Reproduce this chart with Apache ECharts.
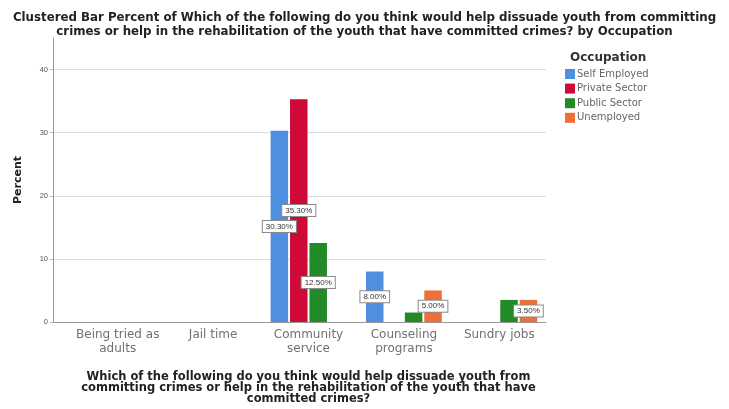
<!DOCTYPE html>
<html><head><meta charset="utf-8">
<script src="https://cdn.jsdelivr.net/npm/echarts@6/dist/echarts.min.js"></script>
<style>html,body{margin:0;padding:0;background:#fff}#c{width:729px;height:409px}</style>
</head><body><div id="c"></div>
<script>
const categories = ['Being tried as\nadults', 'Jail time', 'Community\nservice', 'Counseling\nprograms', 'Sundry jobs'];
const seriesNames = ['Self Employed', 'Private Sector', 'Public Sector', 'Unemployed'];
const selfEmployed = [null, null, 30.3, 8.0, null];
const privateSector = [null, null, 35.3, null, null];
const publicSector = [null, null, 12.5, 1.5, 3.5];
const unemployed = [null, null, null, 5.0, 3.5];
const labelShown = [
  [false, false, true, true, false],
  [false, false, true, false, false],
  [false, false, true, false, false],
  [false, false, false, true, true]
];
const yTicks = [0, 10, 20, 30, 40];
const colors = ['#4f8fe0', '#cf0a37', '#238a28', '#ee6f38'];

const chart = echarts.init(document.getElementById('c'), null, {renderer: 'canvas'});
const font = 'Liberation Sans, Arial, sans-serif';
const wide = 'DejaVu Sans, Verdana, sans-serif';
const values = [selfEmployed, privateSector, publicSector, unemployed];

const series = values.map((arr, si) => ({
  name: seriesNames[si],
  type: 'bar',
  xAxisIndex: 1, yAxisIndex: 1,
  barWidth: 17.5,
  barGap: '11%',
  itemStyle: {color: colors[si]},
  data: arr.map((v, i) => ({
    value: v,
    label: {show: labelShown[si][i] && v != null}
  })),
  label: {
    position: 'inside',
    formatter: p => p.value.toFixed(2) + '%',
    fontSize: 8, fontFamily: font, color: '#333',
    backgroundColor: '#fff', borderColor: '#8a8a8a', borderWidth: 1,
    padding: [2, 3, 1, 3]
  }
}));

chart.setOption({
  backgroundColor: '#fff',
  animation: false,
  title: [
    {text: 'Clustered Bar Percent of Which of the following do you think would help dissuade youth from committing\ncrimes or help in the rehabilitation of the youth that have committed crimes? by Occupation',
     left: 'center', top: 6,
     textStyle: {fontSize: 11.8, fontWeight: 'bold', fontFamily: wide, color: '#222', lineHeight: 14}},
    {text: 'Occupation', left: 565, top: 47,
     textStyle: {fontSize: 12, fontWeight: 'bold', fontFamily: wide, color: '#333'}}
  ],
  legend: {
    orient: 'vertical', left: 560, top: 64,
    itemWidth: 10, itemHeight: 10, itemGap: 4.6,
    icon: 'rect',
    textStyle: {fontSize: 10, fontFamily: wide, color: '#666', padding: [0, 0, 0, -3]},
    data: seriesNames
  },
  grid: [
    {left: 53, top: 38, width: 493, height: 284, outerBoundsMode: 'none', containLabel: false},
    {left: 70, top: 38, width: 477, height: 284, outerBoundsMode: 'none', containLabel: false}
  ],
  xAxis: [
    {type: 'category', gridIndex: 0, data: [''], axisLine: {lineStyle: {color: '#9a9a9a'}},
     axisTick: {show: false}, axisLabel: {show: false}},
    {type: 'category', gridIndex: 1, data: categories,
     axisLine: {show: false}, axisTick: {show: false},
     axisLabel: {fontSize: 12, fontFamily: wide, color: '#707070', lineHeight: 14, margin: 6, interval: 0},
     name: 'Which of the following do you think would help dissuade youth from\ncommitting crimes or help in the rehabilitation of the youth that have\ncommitted crimes?',
     nameLocation: 'middle', nameGap: 50,
     nameTextStyle: {fontSize: 11.5, fontWeight: 'bold', fontFamily: wide, color: '#222', lineHeight: 11}}
  ],
  yAxis: [
    {type: 'value', gridIndex: 0, min: 0, max: 45, interval: 10,
     axisLine: {show: true, lineStyle: {color: '#9a9a9a'}},
     axisTick: {show: true, length: 3, lineStyle: {color: '#bbb'}},
     axisLabel: {fontSize: 7.5, fontFamily: font, color: '#555', margin: 5, showMaxLabel: false,
       formatter: v => yTicks.includes(v) ? String(v) : ''},
     splitLine: {show: true, showMaxLine: false, lineStyle: {color: '#dcdcdc'}},
     name: 'Percent', nameLocation: 'middle', nameGap: 29,
     nameTextStyle: {fontSize: 11, fontWeight: 'bold', fontFamily: wide, color: '#222'}},
    {type: 'value', gridIndex: 1, min: 0, max: 45, interval: 10, show: false, splitLine: {show: false}}
  ],
  series: series
});
</script></body></html>
